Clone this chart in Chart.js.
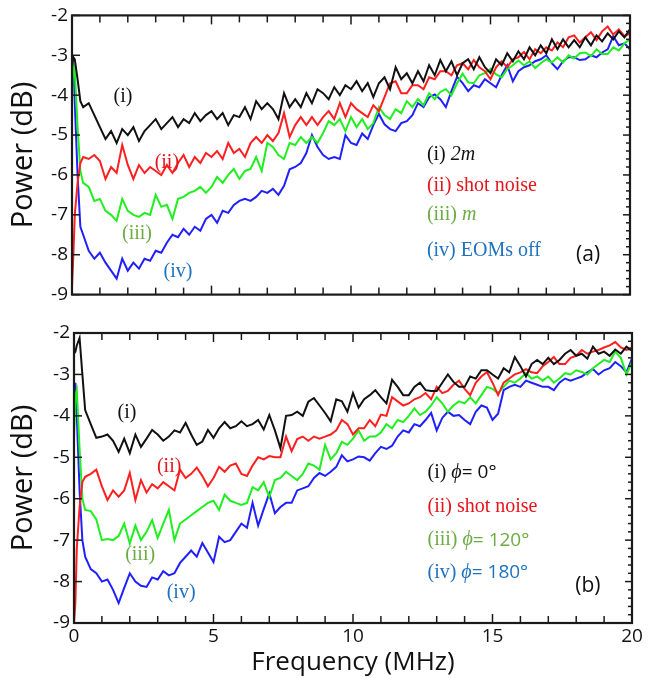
<!DOCTYPE html>
<html><head><meta charset="utf-8">
<script src="https://cdn.jsdelivr.net/npm/chart.js@4.4.1/dist/chart.umd.min.js"></script>
<style>
html,body{margin:0;padding:0;background:#fff;}
#p1{position:absolute;left:0;top:0;}
#p2{position:absolute;left:0;top:310px;}
</style></head><body>
<canvas id="p1" width="650" height="310"></canvas>
<canvas id="p2" width="650" height="368"></canvas>
<script>
// ---------- DATA ----------
// frequency grid (MHz): fine at the start, then every 0.2 MHz
const freq = [0, 0.05, 0.1, 0.2, 0.3];
for (let k = 2; k <= 100; k++) freq.push(Math.round(k * 2) / 10);

const yTicks = [-9, -8, -7, -6, -5, -4, -3, -2];
const xTicks = [0, 5, 10, 15, 20];

// Panel (a)
const a_i = [-3.3,-3.05,-3.1,-3.6,-4.15,
 -4.3,-4.2,-4.5,
 -4.8,-5.1,-4.9,-5.2,-4.85,
 -5.0,-4.8,-5.15,-4.9,-4.75,
 -4.6,-4.85,-4.7,-4.55,-4.8,
 -4.6,-4.7,-4.45,-4.65,-4.5,
 -4.4,-4.6,-4.45,-4.75,-4.5,
 -4.55,-4.3,-4.6,-4.15,-4.35,
 -4.2,-4.35,-4.6,-3.95,-4.3,
 -4.1,-4.3,-3.95,-4.2,-3.85,
 -3.95,-4.1,-3.8,-4.0,-3.75,
 -3.85,-3.65,-3.9,-3.7,-4.05,
 -3.7,-3.55,-3.85,-3.3,-3.6,
 -3.45,-3.7,-3.4,-3.65,-3.25,
 -3.5,-3.12,-3.4,-3.15,-3.5,
 -3.2,-3.1,-3.35,-3.05,-3.3,
 -3.45,-3.1,-3.25,-2.95,-3.15,
 -2.9,-3.1,-2.8,-3.0,-2.75,
 -2.95,-2.6,-2.85,-2.6,-2.8,
 -2.62,-2.8,-2.55,-2.75,-2.5,
 -2.65,-2.45,-2.6,-2.4,-2.55,
 -2.35];
const a_ii = [-8.8,-8.0,-7.0,-6.2,-5.7,
 -5.55,-5.6,-5.5,
 -5.65,-6.1,-5.8,-5.95,-5.25,
 -5.75,-6.1,-5.75,-5.95,-5.8,
 -5.9,-6.0,-5.75,-5.95,-5.7,
 -5.5,-5.8,-5.55,-5.7,-5.45,
 -5.55,-5.4,-5.6,-5.2,-5.45,
 -5.35,-5.55,-5.2,-5.05,-5.2,
 -5.0,-5.15,-4.95,-4.45,-5.05,
 -4.75,-4.55,-4.75,-4.55,-4.75,
 -4.55,-4.4,-4.6,-4.2,-4.55,
 -4.2,-4.35,-4.45,-4.55,-4.25,
 -4.4,-4.05,-3.7,-3.65,-3.95,
 -3.95,-3.75,-3.75,-3.85,-3.55,
 -3.6,-3.4,-3.4,-3.5,-3.25,
 -3.2,-3.35,-3.12,-3.3,-3.4,
 -3.6,-3.3,-3.15,-3.3,-3.1,
 -3.05,-2.92,-3.1,-2.85,-2.95,
 -2.8,-2.88,-2.68,-2.8,-2.55,
 -2.5,-2.68,-2.55,-2.42,-2.62,
 -2.4,-2.28,-2.48,-2.35,-2.52,
 -2.45];
const a_iii = [-4.0,-3.25,-3.4,-4.8,-5.9,
 -6.2,-6.3,-6.65,
 -6.6,-6.9,-7.0,-7.15,-6.6,
 -6.9,-7.0,-7.05,-6.95,-7.0,
 -6.5,-6.8,-6.75,-7.1,-6.6,
 -6.55,-6.45,-6.4,-6.3,-6.45,
 -6.3,-6.05,-6.2,-6.0,-5.85,
 -6.1,-5.9,-5.85,-5.55,-5.9,
 -5.2,-5.3,-5.5,-5.6,-5.2,
 -5.25,-5.05,-5.2,-5.05,-5.2,
 -4.95,-4.65,-4.75,-4.6,-4.9,
 -4.55,-4.8,-4.6,-4.85,-4.7,
 -4.3,-4.5,-4.6,-4.35,-4.45,
 -4.15,-4.3,-4.1,-4.25,-3.95,
 -4.1,-3.92,-3.85,-4.0,-3.7,
 -3.46,-3.68,-3.7,-3.5,-3.45,
 -3.34,-3.48,-3.55,-3.35,-3.25,
 -3.13,-3.25,-3.15,-3.32,-3.2,
 -3.1,-3.18,-3.05,-3.18,-3.0,
 -3.08,-2.95,-2.93,-3.02,-2.85,
 -2.97,-2.97,-2.8,-2.88,-2.7,
 -2.6];
const a_iv = [-3.8,-3.2,-4.2,-6.0,-7.3,
 -7.5,-7.9,-8.1,
 -7.95,-8.2,-8.4,-8.6,-8.1,
 -8.4,-8.2,-8.35,-8.1,-8.15,
 -7.9,-7.95,-7.7,-7.5,-7.56,
 -7.35,-7.5,-7.3,-7.4,-7.1,
 -7.0,-7.2,-6.9,-6.95,-6.75,
 -6.65,-6.6,-6.65,-6.55,-6.4,
 -6.45,-6.35,-6.5,-6.27,-5.86,
 -5.8,-5.7,-5.45,-5.0,-5.3,
 -5.5,-5.6,-5.55,-5.6,-5.0,
 -5.2,-5.25,-4.96,-5.1,-4.75,
 -4.47,-4.73,-4.85,-4.9,-4.7,
 -4.65,-4.5,-4.2,-4.3,-4.05,
 -3.98,-4.1,-4.3,-3.9,-3.54,
 -3.7,-3.9,-3.75,-3.8,-3.6,
 -3.7,-3.8,-3.5,-3.25,-3.65,
 -3.4,-3.3,-3.25,-3.15,-3.1,
 -3.0,-3.2,-3.35,-3.15,-3.05,
 -3.05,-3.12,-3.1,-3.0,-3.05,
 -2.93,-2.85,-2.52,-2.75,-2.7,
 -2.85];

// Panel (b)
const b_i = [-2.5,-2.45,-2.3,-2.12,-3.0,
 -3.86,-4.2,-4.53,
 -4.5,-4.45,-4.6,-4.87,-4.55,
 -4.9,-4.45,-4.75,-4.55,-4.34,
 -4.45,-4.6,-4.5,-4.35,-4.4,
 -4.17,-4.45,-4.7,-4.62,-4.34,
 -4.53,-4.3,-4.15,-4.3,-4.25,
 -4.13,-4.25,-4.2,-4.1,-4.33,
 -3.98,-4.35,-4.78,-4.0,-3.98,
 -3.9,-4.0,-3.66,-3.57,-3.75,
 -3.93,-4.13,-3.6,-3.65,-3.9,
 -3.45,-3.8,-3.6,-3.5,-3.38,
 -3.55,-3.7,-3.13,-3.3,-3.5,
 -3.5,-3.3,-3.2,-3.38,-3.4,
 -3.4,-3.2,-3.0,-3.18,-3.3,
 -3.3,-3.05,-3.1,-2.9,-2.9,
 -3.0,-3.1,-2.85,-2.95,-2.58,
 -2.8,-3.05,-2.75,-2.65,-2.75,
 -2.6,-2.75,-2.65,-2.5,-2.41,
 -2.55,-2.5,-2.62,-2.33,-2.5,
 -2.45,-2.55,-2.4,-2.5,-2.33,
 -2.43];
const b_ii = [-9.0,-8.5,-7.2,-6.2,-5.6,
 -5.47,-5.4,-5.3,
 -5.7,-6.03,-5.8,-5.95,-5.8,
 -5.38,-6.03,-5.55,-5.85,-5.65,
 -5.75,-5.6,-5.7,-5.8,-5.3,
 -5.5,-5.4,-5.25,-5.45,-5.7,
 -5.5,-5.23,-5.35,-5.2,-5.15,
 -5.4,-5.45,-5.2,-5.0,-5.05,
 -4.97,-5.0,-5.0,-4.5,-4.85,
 -4.56,-4.5,-4.6,-4.5,-4.55,
 -4.5,-4.45,-4.35,-4.1,-4.2,
 -4.45,-4.3,-4.3,-4.1,-4.25,
 -3.97,-4.0,-3.55,-3.65,-3.75,
 -3.7,-3.6,-3.55,-3.45,-3.6,
 -3.3,-3.45,-3.4,-3.25,-3.15,
 -3.35,-3.5,-3.2,-3.05,-2.94,
 -3.2,-3.5,-3.2,-3.1,-3.0,
 -2.95,-2.87,-2.95,-2.97,-2.8,
 -2.7,-2.58,-2.75,-2.75,-2.6,
 -2.55,-2.41,-2.5,-2.45,-2.41,
 -2.35,-2.3,-2.22,-2.35,-2.41,
 -2.35];
const b_iii = [-4.5,-3.5,-3.38,-4.8,-6.0,
 -6.27,-6.3,-6.5,
 -7.0,-6.97,-7.0,-6.9,-6.6,
 -7.08,-6.65,-7.0,-6.8,-6.52,
 -6.95,-6.6,-6.27,-7.0,-6.6,
 -6.5,-6.4,-6.3,-6.2,-6.1,
 -6.05,-6.27,-5.9,-6.05,-6.1,
 -6.15,-6.1,-5.72,-5.8,-5.6,
 -5.96,-5.55,-5.5,-5.35,-5.45,
 -5.55,-5.4,-5.15,-5.2,-5.3,
 -4.7,-5.05,-4.9,-4.63,-4.7,
 -4.55,-4.35,-4.6,-4.5,-4.5,
 -4.4,-4.2,-4.3,-4.1,-4.15,
 -4.0,-3.82,-3.98,-3.9,-3.75,
 -3.55,-3.7,-3.9,-3.75,-3.65,
 -3.7,-3.55,-3.7,-3.5,-3.3,
 -3.35,-3.45,-3.3,-3.15,-3.2,
 -3.1,-2.97,-3.1,-3.05,-3.15,
 -3.05,-3.2,-3.1,-2.97,-3.0,
 -2.9,-2.94,-3.0,-2.85,-2.75,
 -2.65,-2.7,-2.45,-2.6,-3.0,
 -2.7];
const b_iv = [-4.0,-3.2,-4.0,-5.8,-7.0,
 -7.4,-7.7,-7.8,
 -8.0,-7.95,-8.2,-8.52,-8.15,
 -7.8,-8.0,-8.1,-8.13,-7.9,
 -7.95,-7.75,-7.85,-7.8,-7.55,
 -7.4,-7.25,-7.4,-7.07,-7.3,
 -7.53,-6.92,-7.05,-7.0,-6.8,
 -6.6,-6.7,-6.1,-6.65,-6.25,
 -5.87,-6.35,-6.2,-6.1,-6.1,
 -5.8,-5.75,-5.7,-5.5,-5.38,
 -5.45,-5.35,-5.23,-4.95,-5.1,
 -5.05,-4.98,-5.0,-5.08,-4.9,
 -4.75,-4.8,-4.72,-4.5,-4.35,
 -4.4,-4.2,-4.25,-4.1,-3.93,
 -4.35,-4.05,-3.9,-4.0,-3.98,
 -4.1,-4.2,-3.9,-3.75,-3.8,
 -4.1,-3.95,-3.38,-3.3,-3.25,
 -3.3,-3.15,-3.2,-3.25,-3.3,
 -3.3,-3.38,-3.2,-3.1,-3.15,
 -3.1,-3.05,-2.95,-2.87,-3.0,
 -2.9,-2.85,-2.7,-2.8,-2.95,
 -2.62];

// ---------- STYLE ----------
const lineColors = ['#111111', '#ff1f1f', '#1fef1f', '#2020ff'];
const textColors = ['#111111', '#e8141c', '#6cac44', '#1f72c0'];
const SERIF = "'Liberation Serif','DejaVu Serif',serif";
const SANS = "'Open Sans','DejaVu Sans',sans-serif";

function toXY(vals) { return vals.map((v, i) => ({x: freq[i], y: v})); }

function makeDatasets(series) {
  return series.map((vals, i) => ({
    data: toXY(vals), borderColor: lineColors[i], borderWidth: 2,
    pointRadius: 0, tension: 0, fill: false
  }));
}

// label positions in data coordinates (MHz, dB)
const curveLabelsA = [
  {x: 1.83, y: -4.03, t: '(i)', c: 0}, {x: 3.4, y: -5.69, t: '(ii)', c: 1},
  {x: 2.33, y: -7.48, t: '(iii)', c: 2}, {x: 3.8, y: -8.43, t: '(iv)', c: 3}];
const curveLabelsB = [
  {x: 1.9, y: -3.93, t: '(i)', c: 0}, {x: 3.41, y: -5.23, t: '(ii)', c: 1},
  {x: 2.37, y: -7.35, t: '(iii)', c: 2}, {x: 3.84, y: -8.27, t: '(iv)', c: 3}];
const legendA = {x: 12.72, rows: [
  {y: -5.5, c: 0, parts: [['(i) ', 'r'], ['2m', 'i']]},
  {y: -6.28, c: 1, parts: [['(ii) shot noise', 'r']]},
  {y: -7.01, c: 2, parts: [['(iii) ', 'r'], ['m', 'i']]},
  {y: -7.89, c: 3, parts: [['(iv) EOMs off', 'r']]}], tag: '(a)', tx: 18.5, ty: -8.01};
const legendB = {x: 12.67, rows: [
  {y: -5.38, c: 0, parts: [['(i) ', 'r'], ['\u03D5', 'i'], ['= 0\u00B0', 's']]},
  {y: -6.2, c: 1, parts: [['(ii) shot noise', 'r']]},
  {y: -7.0, c: 2, parts: [['(iii) ', 'r'], ['\u03D5', 'i'], ['= 120\u00B0', 's']]},
  {y: -7.79, c: 3, parts: [['(iv) ', 'r'], ['\u03D5', 'i'], ['= 180\u00B0', 's']]}], tag: '(b)', tx: 18.42, ty: -8.1};

function fontFor(kind) {
  if (kind === 'i') return 'italic 20px ' + SERIF;
  if (kind === 's') return '19px ' + SANS;
  return '20px ' + SERIF;
}

const framePlugin = {
  id: 'frame',
  afterDatasetsDraw(chart) {
    const {ctx, chartArea: a, scales: {x, y}} = chart;
    const o = chart.options.plugins.frame;
    ctx.save();
    ctx.strokeStyle = '#1a1a1a';
    ctx.lineWidth = 1.5;
    const ln = (x1, y1, x2, y2) => { ctx.beginPath(); ctx.moveTo(x1, y1); ctx.lineTo(x2, y2); ctx.stroke(); };
    for (let f = 0; f <= 20; f++) {
      const px = x.getPixelForValue(f);
      const L = f % 5 === 0 ? 9 : 7;
      ln(px, a.bottom, px, a.bottom - L);
      ln(px, a.top, px, a.top + L);
    }
    for (let k = 0; k <= 35; k++) {
      const v = -9 + k * 0.2;
      const py = y.getPixelForValue(v);
      if (k % 5 === 0) { ln(a.left, py, a.left + 8, py); ln(a.right, py, a.right - 7, py); }
      else ln(a.right, py, a.right - 4, py);
    }
    ctx.lineWidth = 2.2;
    ctx.strokeRect(a.left, a.top, a.right - a.left, a.bottom - a.top);
    // labels
    ctx.textBaseline = 'middle';
    ctx.textAlign = 'center';
    ctx.font = '20px ' + SERIF;
    o.curveLabels.forEach(l => {
      ctx.fillStyle = textColors[l.c];
      ctx.fillText(l.t, x.getPixelForValue(l.x), y.getPixelForValue(l.y));
    });
    ctx.textAlign = 'left';
    const lg = o.legend;
    lg.rows.forEach(r => {
      let px = x.getPixelForValue(lg.x);
      const py = y.getPixelForValue(r.y);
      ctx.fillStyle = textColors[r.c];
      r.parts.forEach(p => {
        ctx.font = fontFor(p[1]);
        ctx.fillText(p[0], px, py);
        px += ctx.measureText(p[0]).width;
      });
    });
    ctx.textAlign = 'center';
    ctx.fillStyle = '#111';
    ctx.font = '21px ' + SANS;
    ctx.fillText(lg.tag, x.getPixelForValue(lg.tx), y.getPixelForValue(lg.ty));
    ctx.restore();
  }
};

function yScale(width) {
  return {
    type: 'linear', min: -9, max: -2,
    afterBuildTicks: s => { s.ticks = yTicks.map(v => ({value: v})); },
    afterFit: s => { s.width = width; },
    grid: {display: false, drawTicks: false}, border: {display: false},
    ticks: {color: '#111', font: {family: SANS, size: 19}, padding: 4, callback: v => String(v)},
    title: {display: true, text: 'Power (dB)', color: '#111', font: {family: SANS, size: 29}, padding: {top: 6, bottom: 0}}
  };
}

function makeChart(id, series, xOpts, yWidth, padding, curveLabels, legend) {
  return new Chart(document.getElementById(id), {
    type: 'scatter',
    data: {datasets: makeDatasets(series)},
    options: {
      responsive: false, animation: false, showLine: true,
      layout: {padding},
      plugins: {legend: {display: false}, tooltip: {enabled: false}, frame: {curveLabels, legend}},
      scales: {x: xOpts, y: yScale(yWidth)}
    },
    plugins: [framePlugin]
  });
}

makeChart('p1', [a_i, a_ii, a_iii, a_iv],
  {type: 'linear', min: 0, max: 20, display: false},
  72, {left: 0, right: 20, top: 12, bottom: 12}, curveLabelsA, legendA);

makeChart('p2', [b_i, b_ii, b_iii, b_iv],
  {type: 'linear', min: 0, max: 20,
   afterBuildTicks: s => { s.ticks = xTicks.map(v => ({value: v})); },
   afterFit: s => { s.height = 55; },
   grid: {display: false, drawTicks: false}, border: {display: false},
   ticks: {color: '#111', font: {family: SANS, size: 19}, padding: 2, maxRotation: 0, autoSkip: false},
   title: {display: true, text: 'Frequency (MHz)', color: '#111', font: {family: SANS, size: 26}, padding: {top: 0, bottom: 0}}},
  74, {left: 0, right: 18, top: 23, bottom: 0}, curveLabelsB, legendB);
</script>
</body></html>
